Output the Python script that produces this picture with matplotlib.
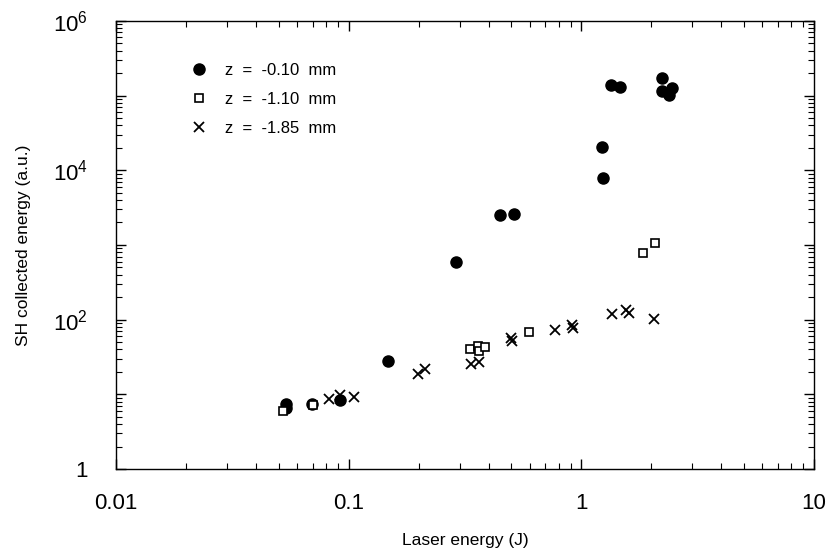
import matplotlib
matplotlib.use("Agg")
import matplotlib.pyplot as plt
from matplotlib.ticker import LogLocator, FuncFormatter, NullFormatter

plt.rcParams['font.family'] = ['Liberation Sans', 'DejaVu Sans']

# z = -0.10 mm (filled circles)
x_a = [0.054, 0.054, 0.0697, 0.092, 0.148, 0.288, 0.448, 0.514,
       1.23, 1.24, 1.34, 1.46, 2.23, 2.22, 2.45, 2.39]
y_a = [7.5, 6.5, 7.5, 8.3, 28, 590, 2490, 2570,
       20300, 8000, 137000, 131000, 173000, 115000, 127000, 102000]

# z = -1.10 mm (open squares)
x_b = [0.052, 0.0703, 0.331, 0.361, 0.365, 0.385, 0.598, 1.85, 2.07]
y_b = [6.0, 7.1, 40, 45, 38, 43, 68, 787, 1060]

# z = -1.85 mm (crosses)
x_c = [0.082, 0.092, 0.105, 0.198, 0.212, 0.336, 0.362, 0.50, 0.505,
       0.773, 0.912, 0.918, 1.36, 1.55, 1.60, 2.05]
y_c = [8.7, 9.8, 9.3, 18.5, 22, 25.7, 27, 57, 52,
       72, 86, 78, 120, 133, 123, 101]

labels = ["z  =  -0.10  mm", "z  =  -1.10  mm", "z  =  -1.85  mm"]

fig = plt.figure(figsize=(8.34, 5.58), dpi=100)
ax = fig.add_axes([0.139, 0.1595, 0.837, 0.803])

ax.plot(x_a, y_a, 'o', color='black', markersize=8, linestyle='none', label=labels[0])
ax.plot(x_b, y_b, 's', markerfacecolor='white', markeredgecolor='black',
        markersize=6.3, markeredgewidth=1.2, linestyle='none', label=labels[1])
ax.plot(x_c, y_c, 'x', color='black', markersize=6.5, markeredgewidth=1.3,
        linestyle='none', label=labels[2])

ax.set_xscale('log')
ax.set_yscale('log')
ax.set_xlim(0.01, 10)
ax.set_ylim(1, 1e6)

ax.xaxis.set_major_locator(LogLocator(base=10, numticks=10))
ax.yaxis.set_major_locator(LogLocator(base=10, numticks=10))
ax.xaxis.set_minor_locator(LogLocator(base=10, subs=range(2, 10), numticks=20))
ax.yaxis.set_minor_locator(LogLocator(base=10, subs=range(2, 10), numticks=20))
ax.xaxis.set_minor_formatter(NullFormatter())
ax.yaxis.set_minor_formatter(NullFormatter())


def xfmt(v, pos):
    return {0.01: "0.01", 0.1: "0.1", 1: "1", 10: "10"}.get(round(v, 4), "")


def yfmt(v, pos):
    if abs(v - 1) < 1e-9:
        return "1"
    for e in (2, 4, 6):
        if abs(v - 10 ** e) < 1e-6 * 10 ** e:
            return r"$\mathregular{10^{%d}}$" % e
    return ""


ax.xaxis.set_major_formatter(FuncFormatter(xfmt))
ax.yaxis.set_major_formatter(FuncFormatter(yfmt))

ax.tick_params(which='both', direction='in', top=True, right=True, color='black')
ax.tick_params(which='major', length=7, width=1.0, labelsize=16)
ax.tick_params(axis='x', which='major', pad=17)
ax.tick_params(axis='y', which='major', pad=20)
ax.tick_params(which='minor', length=4, width=0.8)
for s in ax.spines.values():
    s.set_linewidth(1.0)

ax.set_xlabel("Laser energy (J)", fontsize=12.5, labelpad=14)
ax.set_ylabel("SH collected energy (a.u.)", fontsize=12.5, labelpad=16)

ax.legend(loc='upper left', bbox_to_anchor=(0.085, 0.94), frameon=False,
          fontsize=12, handletextpad=1.1, labelspacing=0.85, handlelength=1.0)

fig.savefig("out.png", dpi=100)
